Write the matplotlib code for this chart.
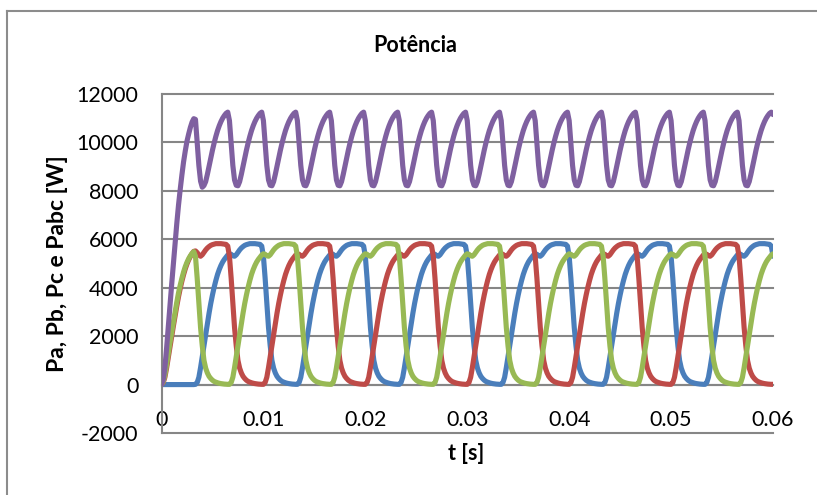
import numpy as np
import matplotlib
matplotlib.use("Agg")
import matplotlib.pyplot as plt
from matplotlib.lines import Line2D

plt.rcParams['font.family'] = ['Lato', 'DejaVu Sans']

# Instantaneous power per phase and total [W], one sample every 1/6000 s, 0 ... 0.06 s
pa = [
    0, 0, 0, 0, 0, 0, 0, 0, 0, 0, 0, 0, 0, 0, 0, 0, 0, 0, 0, 0,
    10, 80, 300, 700, 1150, 1600, 2050, 2500, 2950, 3350, 3700, 4020, 4300, 4550, 4750, 4920, 5060, 5170, 5260, 5350,
    5400, 5380, 5320, 5300, 5360, 5460, 5560, 5640, 5700, 5750, 5780, 5800, 5820, 5820, 5820, 5820, 5810, 5800, 5790, 5720,
    5300, 4400, 3350, 2350, 1600, 1000, 680, 480, 340, 250, 180, 130, 100, 75, 55, 40, 30, 20, 15, 10,
    10, 80, 300, 700, 1150, 1600, 2050, 2500, 2950, 3350, 3700, 4020, 4300, 4550, 4750, 4920, 5060, 5170, 5260, 5350,
    5400, 5380, 5320, 5300, 5360, 5460, 5560, 5640, 5700, 5750, 5780, 5800, 5820, 5820, 5820, 5820, 5810, 5800, 5790, 5720,
    5300, 4400, 3350, 2350, 1600, 1000, 680, 480, 340, 250, 180, 130, 100, 75, 55, 40, 30, 20, 15, 10,
    10, 80, 300, 700, 1150, 1600, 2050, 2500, 2950, 3350, 3700, 4020, 4300, 4550, 4750, 4920, 5060, 5170, 5260, 5350,
    5400, 5380, 5320, 5300, 5360, 5460, 5560, 5640, 5700, 5750, 5780, 5800, 5820, 5820, 5820, 5820, 5810, 5800, 5790, 5720,
    5300, 4400, 3350, 2350, 1600, 1000, 680, 480, 340, 250, 180, 130, 100, 75, 55, 40, 30, 20, 15, 10,
    10, 80, 300, 700, 1150, 1600, 2050, 2500, 2950, 3350, 3700, 4020, 4300, 4550, 4750, 4920, 5060, 5170, 5260, 5350,
    5400, 5380, 5320, 5300, 5360, 5460, 5560, 5640, 5700, 5750, 5780, 5800, 5820, 5820, 5820, 5820, 5810, 5800, 5790, 5720,
    5300, 4400, 3350, 2350, 1600, 1000, 680, 480, 340, 250, 180, 130, 100, 75, 55, 40, 30, 20, 15, 10,
    10, 80, 300, 700, 1150, 1600, 2050, 2500, 2950, 3350, 3700, 4020, 4300, 4550, 4750, 4920, 5060, 5170, 5260, 5350,
    5400, 5380, 5320, 5300, 5360, 5460, 5560, 5640, 5700, 5750, 5780, 5800, 5820, 5820, 5820, 5820, 5810, 5800, 5790, 5720,
    5300, 4400, 3350, 2350, 1600, 1000, 680, 480, 340, 250, 180, 130, 100, 75, 55, 40, 30, 20, 15, 10,
    10, 80, 300, 700, 1150, 1600, 2050, 2500, 2950, 3350, 3700, 4020, 4300, 4550, 4750, 4920, 5060, 5170, 5260, 5350,
    5400, 5380, 5320, 5300, 5360, 5460, 5560, 5640, 5700, 5750, 5780, 5800, 5820, 5820, 5820, 5820, 5810, 5800, 5790, 5720,
    5300,
]

pb = [
    0, 80, 300, 680, 1120, 1560, 2000, 2420, 2840, 3240, 3620, 3960, 4270, 4540, 4780, 4980, 5150, 5290, 5410, 5500,
    5520, 5450, 5350, 5300, 5360, 5460, 5560, 5640, 5700, 5750, 5780, 5800, 5820, 5820, 5820, 5820, 5810, 5800, 5790, 5720,
    5300, 4400, 3350, 2350, 1600, 1000, 680, 480, 340, 250, 180, 130, 100, 75, 55, 40, 30, 20, 15, 10,
    10, 80, 300, 700, 1150, 1600, 2050, 2500, 2950, 3350, 3700, 4020, 4300, 4550, 4750, 4920, 5060, 5170, 5260, 5350,
    5400, 5380, 5320, 5300, 5360, 5460, 5560, 5640, 5700, 5750, 5780, 5800, 5820, 5820, 5820, 5820, 5810, 5800, 5790, 5720,
    5300, 4400, 3350, 2350, 1600, 1000, 680, 480, 340, 250, 180, 130, 100, 75, 55, 40, 30, 20, 15, 10,
    10, 80, 300, 700, 1150, 1600, 2050, 2500, 2950, 3350, 3700, 4020, 4300, 4550, 4750, 4920, 5060, 5170, 5260, 5350,
    5400, 5380, 5320, 5300, 5360, 5460, 5560, 5640, 5700, 5750, 5780, 5800, 5820, 5820, 5820, 5820, 5810, 5800, 5790, 5720,
    5300, 4400, 3350, 2350, 1600, 1000, 680, 480, 340, 250, 180, 130, 100, 75, 55, 40, 30, 20, 15, 10,
    10, 80, 300, 700, 1150, 1600, 2050, 2500, 2950, 3350, 3700, 4020, 4300, 4550, 4750, 4920, 5060, 5170, 5260, 5350,
    5400, 5380, 5320, 5300, 5360, 5460, 5560, 5640, 5700, 5750, 5780, 5800, 5820, 5820, 5820, 5820, 5810, 5800, 5790, 5720,
    5300, 4400, 3350, 2350, 1600, 1000, 680, 480, 340, 250, 180, 130, 100, 75, 55, 40, 30, 20, 15, 10,
    10, 80, 300, 700, 1150, 1600, 2050, 2500, 2950, 3350, 3700, 4020, 4300, 4550, 4750, 4920, 5060, 5170, 5260, 5350,
    5400, 5380, 5320, 5300, 5360, 5460, 5560, 5640, 5700, 5750, 5780, 5800, 5820, 5820, 5820, 5820, 5810, 5800, 5790, 5720,
    5300, 4400, 3350, 2350, 1600, 1000, 680, 480, 340, 250, 180, 130, 100, 75, 55, 40, 30, 20, 15, 10,
    10, 80, 300, 700, 1150, 1600, 2050, 2500, 2950, 3350, 3700, 4020, 4300, 4550, 4750, 4920, 5060, 5170, 5260, 5350,
    5400, 5380, 5320, 5300, 5360, 5460, 5560, 5640, 5700, 5750, 5780, 5800, 5820, 5820, 5820, 5820, 5810, 5800, 5790, 5720,
    5300, 4400, 3350, 2350, 1600, 1000, 680, 480, 340, 250, 180, 130, 100, 75, 55, 40, 30, 20, 15, 10,
    10,
]

pc = [
    0, 120, 400, 820, 1280, 1740, 2160, 2580, 3000, 3400, 3780, 4100, 4390, 4650, 4870, 5050, 5200, 5320, 5420, 5490,
    5300, 4400, 3350, 2350, 1600, 1000, 680, 480, 340, 250, 180, 130, 100, 75, 55, 40, 30, 20, 15, 10,
    10, 80, 300, 700, 1150, 1600, 2050, 2500, 2950, 3350, 3700, 4020, 4300, 4550, 4750, 4920, 5060, 5170, 5260, 5350,
    5400, 5380, 5320, 5300, 5360, 5460, 5560, 5640, 5700, 5750, 5780, 5800, 5820, 5820, 5820, 5820, 5810, 5800, 5790, 5720,
    5300, 4400, 3350, 2350, 1600, 1000, 680, 480, 340, 250, 180, 130, 100, 75, 55, 40, 30, 20, 15, 10,
    10, 80, 300, 700, 1150, 1600, 2050, 2500, 2950, 3350, 3700, 4020, 4300, 4550, 4750, 4920, 5060, 5170, 5260, 5350,
    5400, 5380, 5320, 5300, 5360, 5460, 5560, 5640, 5700, 5750, 5780, 5800, 5820, 5820, 5820, 5820, 5810, 5800, 5790, 5720,
    5300, 4400, 3350, 2350, 1600, 1000, 680, 480, 340, 250, 180, 130, 100, 75, 55, 40, 30, 20, 15, 10,
    10, 80, 300, 700, 1150, 1600, 2050, 2500, 2950, 3350, 3700, 4020, 4300, 4550, 4750, 4920, 5060, 5170, 5260, 5350,
    5400, 5380, 5320, 5300, 5360, 5460, 5560, 5640, 5700, 5750, 5780, 5800, 5820, 5820, 5820, 5820, 5810, 5800, 5790, 5720,
    5300, 4400, 3350, 2350, 1600, 1000, 680, 480, 340, 250, 180, 130, 100, 75, 55, 40, 30, 20, 15, 10,
    10, 80, 300, 700, 1150, 1600, 2050, 2500, 2950, 3350, 3700, 4020, 4300, 4550, 4750, 4920, 5060, 5170, 5260, 5350,
    5400, 5380, 5320, 5300, 5360, 5460, 5560, 5640, 5700, 5750, 5780, 5800, 5820, 5820, 5820, 5820, 5810, 5800, 5790, 5720,
    5300, 4400, 3350, 2350, 1600, 1000, 680, 480, 340, 250, 180, 130, 100, 75, 55, 40, 30, 20, 15, 10,
    10, 80, 300, 700, 1150, 1600, 2050, 2500, 2950, 3350, 3700, 4020, 4300, 4550, 4750, 4920, 5060, 5170, 5260, 5350,
    5400, 5380, 5320, 5300, 5360, 5460, 5560, 5640, 5700, 5750, 5780, 5800, 5820, 5820, 5820, 5820, 5810, 5800, 5790, 5720,
    5300, 4400, 3350, 2350, 1600, 1000, 680, 480, 340, 250, 180, 130, 100, 75, 55, 40, 30, 20, 15, 10,
    10, 80, 300, 700, 1150, 1600, 2050, 2500, 2950, 3350, 3700, 4020, 4300, 4550, 4750, 4920, 5060, 5170, 5260, 5350,
    5400,
]

pabc = [
    0, 200, 700, 1500, 2400, 3300, 4150, 5000, 5850, 6650, 7400, 8050, 8650, 9200, 9650, 10050, 10350, 10620, 10840, 10980,
    10950, 10000, 9050, 8400, 8150, 8220, 8380, 8680, 9020, 9360, 9680, 9980, 10250, 10490, 10690, 10860, 11000, 11110, 11200, 11250,
    10900, 10000, 9050, 8450, 8230, 8210, 8380, 8680, 9020, 9360, 9680, 9980, 10250, 10490, 10690, 10860, 11000, 11110, 11200, 11250,
    10900, 10000, 9050, 8450, 8230, 8210, 8380, 8680, 9020, 9360, 9680, 9980, 10250, 10490, 10690, 10860, 11000, 11110, 11200, 11250,
    10900, 10000, 9050, 8450, 8230, 8210, 8380, 8680, 9020, 9360, 9680, 9980, 10250, 10490, 10690, 10860, 11000, 11110, 11200, 11250,
    10900, 10000, 9050, 8450, 8230, 8210, 8380, 8680, 9020, 9360, 9680, 9980, 10250, 10490, 10690, 10860, 11000, 11110, 11200, 11250,
    10900, 10000, 9050, 8450, 8230, 8210, 8380, 8680, 9020, 9360, 9680, 9980, 10250, 10490, 10690, 10860, 11000, 11110, 11200, 11250,
    10900, 10000, 9050, 8450, 8230, 8210, 8380, 8680, 9020, 9360, 9680, 9980, 10250, 10490, 10690, 10860, 11000, 11110, 11200, 11250,
    10900, 10000, 9050, 8450, 8230, 8210, 8380, 8680, 9020, 9360, 9680, 9980, 10250, 10490, 10690, 10860, 11000, 11110, 11200, 11250,
    10900, 10000, 9050, 8450, 8230, 8210, 8380, 8680, 9020, 9360, 9680, 9980, 10250, 10490, 10690, 10860, 11000, 11110, 11200, 11250,
    10900, 10000, 9050, 8450, 8230, 8210, 8380, 8680, 9020, 9360, 9680, 9980, 10250, 10490, 10690, 10860, 11000, 11110, 11200, 11250,
    10900, 10000, 9050, 8450, 8230, 8210, 8380, 8680, 9020, 9360, 9680, 9980, 10250, 10490, 10690, 10860, 11000, 11110, 11200, 11250,
    10900, 10000, 9050, 8450, 8230, 8210, 8380, 8680, 9020, 9360, 9680, 9980, 10250, 10490, 10690, 10860, 11000, 11110, 11200, 11250,
    10900, 10000, 9050, 8450, 8230, 8210, 8380, 8680, 9020, 9360, 9680, 9980, 10250, 10490, 10690, 10860, 11000, 11110, 11200, 11250,
    10900, 10000, 9050, 8450, 8230, 8210, 8380, 8680, 9020, 9360, 9680, 9980, 10250, 10490, 10690, 10860, 11000, 11110, 11200, 11250,
    10900, 10000, 9050, 8450, 8230, 8210, 8380, 8680, 9020, 9360, 9680, 9980, 10250, 10490, 10690, 10860, 11000, 11110, 11200, 11250,
    10900, 10000, 9050, 8450, 8230, 8210, 8380, 8680, 9020, 9360, 9680, 9980, 10250, 10490, 10690, 10860, 11000, 11110, 11200, 11250,
    10900, 10000, 9050, 8450, 8230, 8210, 8380, 8680, 9020, 9360, 9680, 9980, 10250, 10490, 10690, 10860, 11000, 11110, 11200, 11250,
    11150,
]

series_names = ["Pa", "Pb", "Pc", "Pabc"]
series_colors = ["#4A7EBB", "#BE4B48", "#98B954", "#7F60A0"]

x_ticks = [0, 0.01, 0.02, 0.03, 0.04, 0.05, 0.06]
x_tick_labels = ["0", "0.01", "0.02", "0.03", "0.04", "0.05", "0.06"]
y_ticks = [-2000, 0, 2000, 4000, 6000, 8000, 10000, 12000]
y_tick_labels = ["-2000", "0", "2000", "4000", "6000", "8000", "10000", "12000"]

title = "Potência"
x_label = "t [s]"
y_label = "Pa, Pb, Pc e Pabc [W]"

W, H = 817, 495
fig = plt.figure(figsize=(W / 100, H / 100), dpi=100)
fig.patch.set_facecolor("white")

# plot area in pixel terms
left, right, top, bottom = 161.5, 773.0, 94.0, 433.0
ax = fig.add_axes([left / W, 1 - bottom / H, (right - left) / W, (bottom - top) / H])
ax.set_facecolor("white")

grid_color = "#868686"

for name, values, color in zip(series_names, [pa, pb, pc, pabc], series_colors):
    t = np.linspace(0.0, 0.06, len(values))
    ax.plot(t, values, color=color, lw=3.7, solid_joinstyle="round",
            solid_capstyle="round", label=name, zorder=3)

ax.set_xlim(0, 0.06)
ax.set_ylim(-2000, 12000)

ax.set_yticks(y_ticks)
ax.set_yticklabels(y_tick_labels)
ax.set_xticks(x_ticks)
ax.set_xticklabels(x_tick_labels)

ax.yaxis.grid(True, color=grid_color, lw=1.5)
ax.xaxis.grid(False)
ax.set_axisbelow(True)
for gl in ax.get_ygridlines():
    gl.set_clip_on(False)

for side in ("top", "right"):
    ax.spines[side].set_visible(False)
ax.spines["left"].set_color(grid_color)
ax.spines["left"].set_linewidth(1.5)
ax.spines["bottom"].set_position(("data", 0))
ax.spines["bottom"].set_color(grid_color)
ax.spines["bottom"].set_linewidth(1.5)

ax.tick_params(axis="both", length=0, labelsize=15.5, colors="black")
ax.tick_params(axis="y", pad=16.5)
ax.tick_params(axis="x", pad=18)

fig.text(415 / W, 1 - 46 / H, title, ha="center", va="center",
         fontsize=15.5, fontweight="bold")
fig.text(466 / W, 1 - 453 / H, x_label, ha="center", va="center",
         fontsize=15.5, fontweight="bold")
fig.text(57 / W, 1 - 264 / H, y_label, ha="center", va="center",
         rotation=90, fontsize=16.5, fontweight="bold")

# chart frame (top and left edges show inside the canvas)
fig.add_artist(Line2D([7 / W, 1.0], [1 - 11 / H, 1 - 11 / H], transform=fig.transFigure,
                      color="#8C8C8C", lw=1.5))
fig.add_artist(Line2D([7 / W, 7 / W], [0.0, 1 - 11 / H], transform=fig.transFigure,
                      color="#8C8C8C", lw=1.5))

fig.savefig("out.png", dpi=100, facecolor="white")
